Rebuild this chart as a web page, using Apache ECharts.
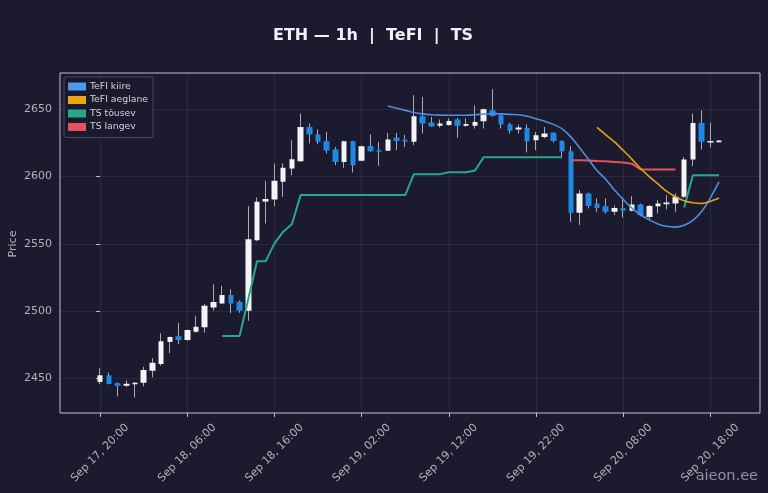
<!DOCTYPE html>
<html>
<head>
<meta charset="utf-8">
<script src="https://cdn.jsdelivr.net/npm/echarts@6/dist/echarts.min.js"></script>
<style>
html, body { margin: 0; padding: 0; background: #1b1a2e; }
#container { width: 768px; height: 493px; }
</style>
</head>
<body>
<div id="container"></div>
<script>
// hourly candles, Sep 17 20:00 -> Sep 20 19:00 ; [open, close, low, high]
var ohlc = [
    [2447.2, 2452.2, 2445.8, 2457.4], [2452.2, 2445.8, 2445.5, 2454.2], [2446.3, 2444.5, 2436.5, 2447.0],
    [2444.5, 2446.0, 2443.5, 2448.5], [2445.5, 2446.7, 2435.7, 2447.2], [2446.7, 2456.2, 2444.0, 2458.6],
    [2455.6, 2461.6, 2450.7, 2465.0], [2460.6, 2477.5, 2459.4, 2483.4], [2477.0, 2480.7, 2468.6, 2481.0],
    [2481.2, 2478.5, 2475.5, 2491.3], [2478.5, 2485.9, 2478.0, 2486.2], [2484.6, 2488.3, 2484.0, 2496.3],
    [2487.9, 2503.9, 2483.9, 2505.2], [2502.7, 2506.7, 2500.2, 2519.8], [2505.7, 2511.9, 2505.5, 2518.8],
    [2511.9, 2505.7, 2498.3, 2516.1], [2506.9, 2500.2, 2498.7, 2508.0], [2500.2, 2553.3, 2492.8, 2578.0],
    [2552.7, 2581.2, 2552.0, 2584.5], [2581.5, 2583.4, 2565.2, 2596.8], [2583.0, 2596.8, 2578.0, 2609.7],
    [2596.1, 2606.5, 2585.0, 2609.7], [2606.0, 2612.9, 2601.0, 2627.0], [2611.4, 2636.9, 2611.0, 2646.9],
    [2636.9, 2631.3, 2624.6, 2639.5], [2631.3, 2625.8, 2624.0, 2635.0], [2626.3, 2619.4, 2617.2, 2633.2],
    [2620.1, 2610.9, 2608.5, 2622.0], [2610.9, 2626.3, 2606.5, 2626.6], [2626.3, 2608.5, 2603.0, 2626.6],
    [2611.7, 2622.6, 2611.4, 2623.0], [2622.8, 2618.9, 2618.5, 2631.3], [2619.6, 2618.4, 2608.0, 2625.8],
    [2619.1, 2627.6, 2619.0, 2632.5], [2629.0, 2626.5, 2619.6, 2632.5], [2627.3, 2626.1, 2622.0, 2631.0],
    [2625.8, 2644.9, 2623.3, 2660.5], [2644.9, 2639.5, 2632.0, 2659.2], [2640.2, 2637.2, 2637.0, 2644.4],
    [2637.7, 2639.5, 2636.5, 2642.4], [2638.4, 2641.4, 2637.9, 2643.2], [2642.4, 2637.7, 2628.8, 2643.5],
    [2637.7, 2639.0, 2637.0, 2643.2], [2637.7, 2640.6, 2635.7, 2653.0], [2641.2, 2650.0, 2635.7, 2650.6],
    [2649.3, 2645.1, 2644.4, 2665.0], [2645.6, 2638.7, 2635.7, 2646.5], [2638.9, 2634.0, 2632.0, 2640.0],
    [2635.0, 2636.4, 2632.0, 2638.7], [2636.2, 2626.3, 2617.9, 2638.7], [2627.0, 2630.8, 2619.6, 2633.2],
    [2629.5, 2632.0, 2628.5, 2636.9], [2632.5, 2626.5, 2625.3, 2633.0], [2626.5, 2618.9, 2614.6, 2627.0],
    [2618.9, 2573.0, 2566.3, 2622.6], [2573.0, 2587.4, 2564.0, 2589.9], [2587.4, 2578.2, 2576.3, 2588.0],
    [2580.0, 2576.7, 2573.8, 2583.7], [2578.0, 2573.8, 2572.6, 2583.7], [2573.8, 2576.7, 2571.3, 2578.5],
    [2576.7, 2574.5, 2569.6, 2584.5], [2574.5, 2579.3, 2574.0, 2585.4], [2579.3, 2571.3, 2570.5, 2580.0],
    [2570.0, 2578.2, 2568.0, 2579.0], [2578.0, 2580.0, 2572.6, 2582.5], [2579.5, 2580.8, 2575.6, 2586.2],
    [2580.0, 2584.9, 2573.8, 2587.5], [2584.9, 2612.7, 2584.0, 2614.6], [2612.7, 2639.9, 2607.7, 2646.9],
    [2639.9, 2625.8, 2620.0, 2649.3], [2625.3, 2626.5, 2621.6, 2640.0], [2625.6, 2626.9, 2625.4, 2627.2]
];

// indicator lines, each starting at a given candle index
var tefiKiireStart = 33;
var tefiKiire = [2652.4, 2650.8, 2649.2, 2647.6, 2646.6, 2646.0, 2645.7, 2645.6, 2645.6, 2645.6,
    2646.0, 2646.5, 2646.8, 2646.6, 2646.2, 2646.0, 2644.8, 2643.0, 2641.2, 2638.8,
    2635.5, 2629.5, 2621.5, 2613.0, 2604.5, 2598.0, 2590.0, 2583.0, 2576.5, 2571.6,
    2567.8, 2564.8, 2563.0, 2562.4, 2563.8, 2567.5, 2574.0, 2584.0, 2596.0];

var tefiAeglaneStart = 57;
var tefiAeglane = [2636.5, 2631.0, 2625.8, 2619.5, 2613.0, 2606.0, 2600.0, 2594.5, 2589.0, 2585.0,
    2582.0, 2580.5, 2580.0, 2581.5, 2584.0];

var tsTousevStart = 14;
var tsTousev = [2481.4, 2481.4, 2481.4, 2509.0, 2537.1, 2537.1, 2550.3, 2559.0, 2564.6, 2586.2,
    2586.2, 2586.2, 2586.2, 2586.2, 2586.2, 2586.2, 2586.2, 2586.2, 2586.2, 2586.2,
    2586.2, 2586.2, 2601.8, 2601.8, 2601.8, 2601.8, 2603.2, 2603.2, 2603.2, 2604.5,
    2614.4, 2614.4, 2614.4, 2614.4, 2614.4, 2614.4, 2614.4, 2614.4, 2614.4, 2614.4];
var tsTousev2Start = 67;
var tsTousev2 = [2577.0, 2601.0, 2601.0, 2601.0, 2601.0];

var tsLangevStart = 54;
var tsLangev = [2612.2, 2612.2, 2612.0, 2611.6, 2611.3, 2610.9, 2610.4, 2609.6, 2605.3, 2605.3,
    2605.3, 2605.3, 2605.3];

var xTickIdx = [0, 10, 20, 30, 40, 50, 60, 70];
var xTickLabels = ['Sep 17, 20:00', 'Sep 18, 06:00', 'Sep 18, 16:00', 'Sep 19, 02:00',
    'Sep 19, 12:00', 'Sep 19, 22:00', 'Sep 20, 08:00', 'Sep 20, 18:00'];
var yTicks = [2450, 2500, 2550, 2600, 2650];

function toPoints(start, values) {
    var out = [];
    for (var i = 0; i < values.length; i++) {
        out.push([start + i, values[i]]);
    }
    return out;
}

var candleData = ohlc.map(function (r, i) {
    return [i, r[0], r[1], r[2], r[3]];
});

var tsTousevData = toPoints(tsTousevStart, tsTousev);
tsTousevData.push([tsTousevStart + tsTousev.length, '-']);
tsTousevData = tsTousevData.concat(toPoints(tsTousev2Start, tsTousev2));

var dom = document.getElementById('container');
var myChart = echarts.init(dom, null, { renderer: 'canvas' });
var font = 'DejaVu Sans';

var option = {
    animation: false,
    backgroundColor: '#1b1a2e',
    textStyle: { fontFamily: font },
    title: {
        text: 'ETH \u2014 1h  |  TeFI  |  TS',
        left: 268,
        top: 23,
        textStyle: { color: '#f2f2f6', fontSize: 16, fontWeight: 'bold', fontFamily: font }
    },
    legend: {
        data: ['TeFI kiire', 'TeFI aeglane', 'TS t\u00f5usev', 'TS langev'],
        orient: 'vertical',
        left: 64,
        top: 77,
        icon: 'rect',
        itemWidth: 18,
        itemHeight: 8,
        itemGap: 4.5,
        padding: [5, 5, 6, 4],
        backgroundColor: 'rgba(27,26,46,0.85)',
        borderColor: 'rgba(160,160,180,0.35)',
        borderWidth: 1,
        borderRadius: 2,
        textStyle: { color: '#d2d2da', fontSize: 9.3, fontFamily: font, padding: [0, 0, 0, -1] }
    },
    grid: {
        left: 60, right: 8, top: 73, bottom: 80,
        outerBoundsMode: 'none',
        containLabel: false,
        show: true,
        borderColor: '#bfc0cc',
        borderWidth: 1
    },
    xAxis: {
        type: 'value',
        min: -4.6,
        max: 75.7,
        axisLine: { show: false },
        axisTick: {
            show: true, length: 4, customValues: xTickIdx,
            lineStyle: { color: '#bfc0cc' }
        },
        axisLabel: {
            customValues: xTickIdx,
            rotate: 45,
            align: 'center',
            verticalAlign: 'middle',
            margin: 40,
            color: '#b2b2bc',
            fontSize: 11,
            fontFamily: font,
            formatter: function (v) {
                var k = xTickIdx.indexOf(Math.round(v));
                return k >= 0 ? xTickLabels[k] : '';
            }
        },
        splitLine: { show: true, lineStyle: { color: 'rgba(255,255,255,0.07)', width: 1 } }
    },
    yAxis: {
        type: 'value',
        min: 2424.2,
        max: 2677,
        axisLine: { show: false },
        axisTick: {
            show: true, length: 4, customValues: yTicks,
            lineStyle: { color: '#bfc0cc' }
        },
        axisLabel: {
            customValues: yTicks,
            margin: 8,
            color: '#b2b2bc',
            fontSize: 11,
            fontFamily: font,
            formatter: function (v) { return String(Math.round(v)); }
        },
        splitLine: { show: true, lineStyle: { color: 'rgba(255,255,255,0.07)', width: 1 } }
    },
    graphic: [
        {
            type: 'text',
            x: 13,
            y: 244,
            rotation: Math.PI / 2,
            style: {
                text: 'Price', fill: '#b2b2bc', fontSize: 11, fontFamily: font,
                align: 'center', verticalAlign: 'middle'
            }
        },
        {
            type: 'text',
            right: 10,
            bottom: 9,
            style: { text: 'aieon.ee', fill: 'rgba(175,175,190,0.8)', fontSize: 14.5, fontFamily: font }
        }
    ],
    series: [
        {
            // wicks
            name: 'wick',
            type: 'candlestick',
            data: candleData,
            encode: { x: 0, y: [1, 2, 3, 4] },
            barWidth: 1,
            z: 2,
            itemStyle: {
                color: '#a8aab8', color0: '#a8aab8',
                borderColor: '#a8aab8', borderColor0: '#a8aab8',
                borderWidth: 1
            }
        },
        {
            // bodies
            name: 'body',
            type: 'candlestick',
            data: candleData,
            encode: { x: 0, y: [1, 2, 3, 4] },
            barWidth: 6,
            z: 3,
            itemStyle: {
                color: '#f4f4f7', color0: '#1e88e5',
                borderColor: 'rgba(0,0,0,0)', borderColor0: 'rgba(0,0,0,0)',
                borderWidth: 0
            }
        },
        {
            name: 'TS t\u00f5usev',
            type: 'line',
            data: tsTousevData,
            showSymbol: false,
            connectNulls: false,
            z: 4,
            itemStyle: { color: '#27a88b' },
            lineStyle: { color: '#27a88b', width: 2 }
        },
        {
            name: 'TS langev',
            type: 'line',
            data: toPoints(tsLangevStart, tsLangev),
            showSymbol: false,
            z: 4,
            itemStyle: { color: '#e5535a' },
            lineStyle: { color: '#e5535a', width: 2 }
        },
        {
            name: 'TeFI kiire',
            type: 'line',
            data: toPoints(tefiKiireStart, tefiKiire),
            showSymbol: false,
            smooth: 0.3,
            z: 5,
            itemStyle: { color: '#4b9cf0' },
            lineStyle: { color: '#4b8fe0', width: 1.6 }
        },
        {
            name: 'TeFI aeglane',
            type: 'line',
            data: toPoints(tefiAeglaneStart, tefiAeglane),
            showSymbol: false,
            smooth: 0.3,
            z: 5,
            itemStyle: { color: '#eaa60e' },
            lineStyle: { color: '#e3a20f', width: 1.6 }
        }
    ]
};

if (option && typeof option === 'object') {
    myChart.setOption(option, true);
}
</script>
</body>
</html>
